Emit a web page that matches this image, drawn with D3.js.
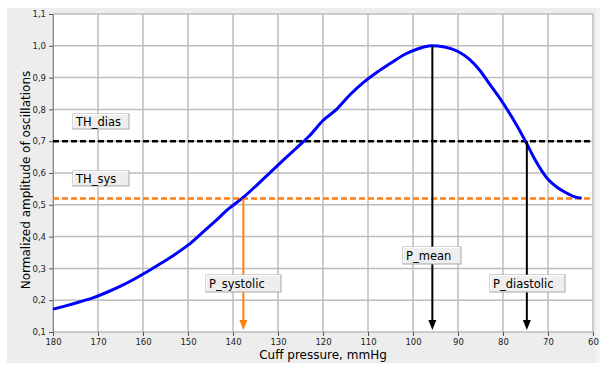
<!DOCTYPE html>
<meta charset="utf-8">
<head>
  <title>Oscillometric envelope</title>
</head>

<style>
body { margin: 0; background: white; }
text {
  font-family: "DejaVu Sans", Verdana, sans-serif;
  fill: black;
}
.tick text { font-size: 8.5px; fill: #222; }
.grid line { stroke: #bdbdbd; stroke-width: 1.5; }
.axis path { stroke: #8a8a8a; }
.axis line { stroke: #555; }
.tag text { font-size: 11.5px; }
</style>

<body>
  <svg width="606" height="365"></svg>

  <script src="https://cdnjs.cloudflare.com/ajax/libs/d3/7.8.5/d3.min.js"></script>
  <script>
// envelope (cuff pressure mmHg, normalized amplitude)
var pressure = [180, 177, 174, 171, 168, 165, 162, 159, 156, 153, 150, 147, 144, 141, 138,
  135, 132, 129, 126, 123, 120, 117, 114, 111, 108, 105, 102, 99, 96, 93, 90, 87.5,
  85, 83, 80, 78, 75, 73, 70, 68, 66, 64, 62.5];
var amplitude = [0.172, 0.183, 0.195, 0.208, 0.225, 0.244, 0.266, 0.29, 0.316, 0.343, 0.373,
  0.41, 0.448, 0.487, 0.52, 0.558, 0.598, 0.638, 0.677, 0.717, 0.765, 0.80, 0.846, 0.885,
  0.917, 0.945, 0.972, 0.99, 1.0, 0.996, 0.982, 0.958, 0.92, 0.88, 0.82, 0.775, 0.70,
  0.645, 0.58, 0.555, 0.538, 0.525, 0.521];

var xTicks = [180, 170, 160, 150, 140, 130, 120, 110, 100, 90, 80, 70, 60];
var yTicks = [0.1, 0.2, 0.3, 0.4, 0.5, 0.6, 0.7, 0.8, 0.9, 1.0, 1.1];

var thresholds = [
  {name: "TH_dias", value: 0.7, color: "black"},
  {name: "TH_sys", value: 0.52, color: "#ff8010"}
];
var markers = [
  {name: "P_systolic", p: 137.7, a: 0.52, color: "#ff8010"},
  {name: "P_mean", p: 95.7, a: 1.0, color: "black"},
  {name: "P_diastolic", p: 74.7, a: 0.7, color: "black"}
];

var svg = d3.select('svg');
var pLeft = 53, pRight = 593, pTop = 14, pBottom = 332;

var x = d3.scaleLinear().domain([180, 60]).range([pLeft, pRight]);
var y = d3.scaleLinear().domain([0.1, 1.1]).range([pBottom, pTop]);

// grey panel and white plot
svg.append('rect')
  .attr('x', 7).attr('y', 8).attr('width', 592).attr('height', 355)
  .attr('fill', '#ededed');
svg.append('rect')
  .attr('x', 596).attr('y', 8).attr('width', 4).attr('height', 355)
  .attr('fill', '#f4f4f4');
svg.append('rect')
  .attr('x', pLeft).attr('y', pTop)
  .attr('width', pRight - pLeft).attr('height', pBottom - pTop)
  .attr('fill', 'white');

// grid
svg.append('g').attr('class', 'grid')
  .selectAll('line').data(xTicks).enter().append('line')
  .attr('x1', function(d) { return x(d); }).attr('x2', function(d) { return x(d); })
  .attr('y1', pTop).attr('y2', pBottom);
svg.append('g').attr('class', 'grid')
  .selectAll('line').data(yTicks).enter().append('line')
  .attr('x1', pLeft).attr('x2', pRight)
  .attr('y1', function(d) { return y(d); }).attr('y2', function(d) { return y(d); });

var fmt = function(d) { return d3.format('.1f')(d).replace('.', ','); };

svg.append('g').attr('class', 'axis')
  .attr('transform', 'translate(0,' + pBottom + ')')
  .call(d3.axisBottom(x).tickValues(xTicks).tickSize(4).tickSizeOuter(0).tickPadding(3))
  .select('.domain').remove();
svg.append('g').attr('class', 'axis')
  .attr('transform', 'translate(' + pLeft + ',0)')
  .call(d3.axisLeft(y).tickValues(yTicks).tickFormat(fmt).tickSize(4).tickSizeOuter(0).tickPadding(3));

// axis titles
svg.append('text')
  .attr('x', (pLeft + pRight) / 2).attr('y', 359)
  .attr('text-anchor', 'middle')
  .style('font-size', '12px')
  .text('Cuff pressure, mmHg');
svg.append('text')
  .attr('transform', 'translate(30,' + 180 + ') rotate(-90)')
  .attr('text-anchor', 'middle')
  .style('font-size', '12px')
  .text('Normalized amplitude of oscillations');

// threshold lines
svg.selectAll('.th').data(thresholds).enter().append('line')
  .attr('class', 'th')
  .attr('x1', pLeft).attr('x2', pRight)
  .attr('y1', function(d) { return y(d.value); })
  .attr('y2', function(d) { return y(d.value); })
  .attr('stroke', function(d) { return d.color; })
  .attr('stroke-width', 2.5)
  .attr('stroke-dasharray', '6,3');

// envelope
var line = d3.line()
  .x(function(d) { return x(d[0]); })
  .y(function(d) { return y(d[1]); })
  .curve(d3.curveMonotoneX);

svg.append('path')
  .datum(d3.zip(pressure, amplitude))
  .attr('d', line)
  .attr('fill', 'none')
  .attr('stroke', '#0000ff')
  .attr('stroke-width', 3);

// arrows down to the pressure axis
var arrows = svg.selectAll('.arrow').data(markers).enter().append('g').attr('class', 'arrow');
arrows.append('line')
  .attr('x1', function(d) { return x(d.p); }).attr('x2', function(d) { return x(d.p); })
  .attr('y1', function(d) { return y(d.a); }).attr('y2', pBottom - 6)
  .attr('stroke', function(d) { return d.color; })
  .attr('stroke-width', 2);
arrows.append('path')
  .attr('d', function(d) {
    var cx = x(d.p), b = pBottom - 2;
    return 'M' + (cx - 4) + ',' + (b - 10) + 'L' + (cx + 4) + ',' + (b - 10) + 'L' + cx + ',' + b + 'Z';
  })
  .attr('fill', function(d) { return d.color; });

// label boxes
var tags = [
  {name: "TH_dias", x: 73, y: 114, w: 56, h: 15},
  {name: "TH_sys", x: 73, y: 171, w: 56, h: 15},
  {name: "P_systolic", x: 206, y: 275, w: 75, h: 17},
  {name: "P_mean", x: 403, y: 247, w: 58, h: 17},
  {name: "P_diastolic", x: 490, y: 275, w: 75, h: 17}
];

var tag = svg.selectAll('.tag').data(tags).enter().append('g')
  .attr('class', 'tag')
  .attr('transform', function(d) { return 'translate(' + [d.x, d.y] + ')'; });
tag.append('rect')
  .attr('width', function(d) { return d.w; })
  .attr('height', function(d) { return d.h; })
  .attr('fill', '#eeeeee')
  .attr('stroke', '#a8a8a8');
tag.append('path')
  .attr('d', function(d) { return 'M0.5,' + (d.h - 1) + 'V0.5H' + (d.w - 1); })
  .attr('fill', 'none')
  .attr('stroke', 'white');
tag.append('text')
  .attr('x', 3)
  .attr('y', function(d) { return d.h / 2 + 4; })
  .text(function(d) { return d.name; });
  </script>
</body>
</html>
